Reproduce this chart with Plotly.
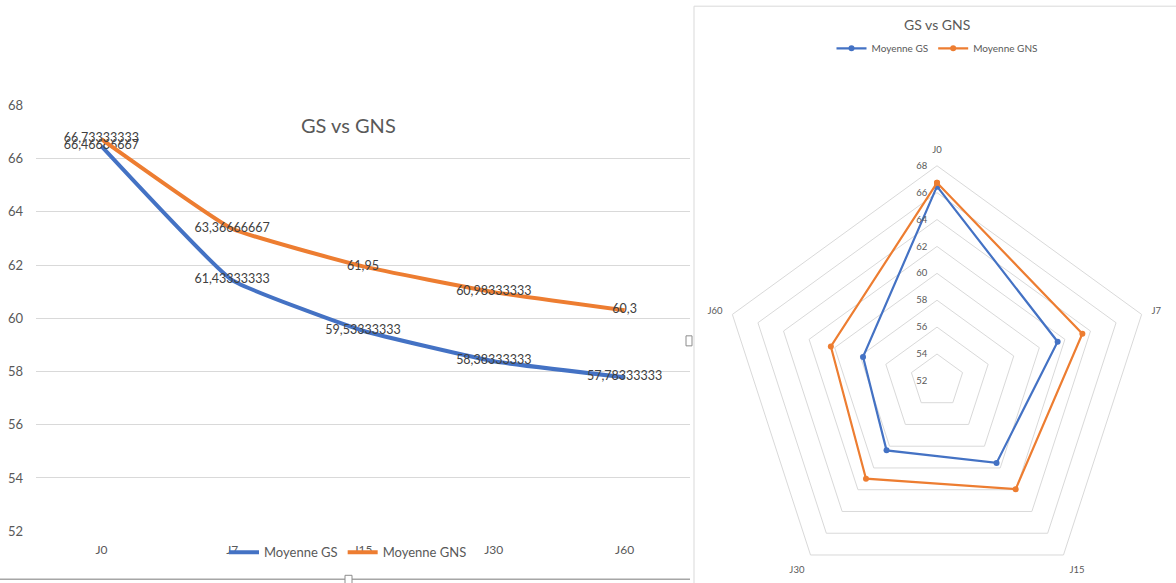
import plotly.graph_objects as go

# Days of follow-up and mean values per group
jours = ["J0", "J7", "J15", "J30", "J60"]
moyenne_gs = [66.46666667, 61.43333333, 59.53333333, 58.38333333, 57.78333333]
moyenne_gns = [66.73333333, 63.36666667, 61.95, 60.98333333, 60.3]
y_ticks = [52, 54, 56, 58, 60, 62, 64, 66, 68]

BLUE = "#4472C4"
ORANGE = "#ED7D31"
GRID = "#D9D9D9"
TXT = "#595959"
FONT = "Lato"

W, H = 1176, 606

# vertical placement: page offset and scale of the rendered view
V_OFF, V_SC = 7.8, 0.9717

# radar placement (centre on screen, radius in layout pixels)
RADAR_CX, RADAR_CY, RADAR_R = 937, 380, 221


def px_x(p):
    return p / W


def design_y(p):
    return (p - V_OFF) / V_SC


def px_y(p):
    return (H - design_y(p)) / H


def fr_label(v):
    # French decimal comma, Excel "General" style (10 significant digits)
    return f"{v:.10g}".replace(".", ",")


fig = go.Figure()

# ---- Line chart (left) ----
for name, vals, col in [("Moyenne GS", moyenne_gs, BLUE), ("Moyenne GNS", moyenne_gns, ORANGE)]:
    fig.add_trace(go.Scatter(
        x=jours, y=vals, name=name, mode="lines+text",
        line=dict(color=col, width=4, shape="spline", smoothing=0.35),
        text=[fr_label(v) for v in vals], textposition="middle center",
        textfont=dict(family=FONT, size=12.5, color="#404040"),
        xaxis="x", yaxis="y", legend="legend",
    ))

# ---- Radar chart (right) ----
for name, vals, col in [("Moyenne GS", moyenne_gs, BLUE), ("Moyenne GNS", moyenne_gns, ORANGE)]:
    fig.add_trace(go.Scatterpolar(
        r=vals + vals[:1], theta=jours + jours[:1], name=name,
        mode="lines+markers",
        line=dict(color=col, width=2.2),
        marker=dict(color=col, size=6),
        subplot="polar", legend="legend2",
    ))

# polar box: square in layout pixels, centred on the radar centre
cy_d = design_y(RADAR_CY)
polar_y = [(H - (cy_d + RADAR_R)) / H, (H - (cy_d - RADAR_R)) / H]

fig.update_layout(
    width=W, height=H, autosize=False,
    margin=dict(l=0, r=0, t=0, b=0),
    paper_bgcolor="white", plot_bgcolor="white",
    font=dict(family=FONT, color=TXT),
    xaxis=dict(
        domain=[px_x(36), px_x(690)], range=[-0.5, 4.5], type="category",
        showgrid=False, showline=False, zeroline=False, ticks="",
        tickfont=dict(family=FONT, size=12, color=TXT), ticklabelstandoff=10,
    ),
    yaxis=dict(
        domain=[px_y(530), px_y(105)], range=[52, 68], tickvals=y_ticks,
        showgrid=True, gridcolor=GRID, gridwidth=1, zeroline=False, showline=False,
        ticks="", tickfont=dict(family=FONT, size=13, color=TXT), ticklabelstandoff=12,
    ),
    legend=dict(
        orientation="h", x=px_x(224), y=px_y(551), xanchor="left", yanchor="middle",
        bgcolor="rgba(0,0,0,0)", font=dict(family=FONT, size=13, color=TXT),
        itemwidth=30, tracegroupgap=0,
    ),
    legend2=dict(
        orientation="h", x=px_x(937), y=px_y(48), xanchor="center", yanchor="middle",
        bgcolor="rgba(0,0,0,0)", font=dict(family=FONT, size=10, color=TXT),
        itemwidth=30,
    ),
    polar=dict(
        domain=dict(
            x=[px_x(RADAR_CX - RADAR_R), px_x(RADAR_CX + RADAR_R)],
            y=polar_y,
        ),
        gridshape="linear", bgcolor="white",
        radialaxis=dict(
            range=[52, 68], tickvals=y_ticks, angle=90, side="counterclockwise",
            showline=False, ticks="outside", ticklen=6, tickcolor="rgba(0,0,0,0)",
            gridcolor=GRID, gridwidth=1,
            tickfont=dict(family=FONT, size=9.5, color=TXT), tickangle=90,
        ),
        angularaxis=dict(
            direction="clockwise", rotation=90, showgrid=False,
            showline=True, linecolor=GRID, linewidth=1,
            ticks="outside", ticklen=8, tickcolor="rgba(0,0,0,0)",
            tickfont=dict(family=FONT, size=9.5, color=TXT),
        ),
    ),
    annotations=[
        dict(text="GS vs GNS", x=px_x(348), y=px_y(125), xref="paper", yref="paper",
             xanchor="center", yanchor="middle", showarrow=False,
             font=dict(family=FONT, size=20, color=TXT)),
        dict(text="GS vs GNS", x=px_x(937), y=px_y(24), xref="paper", yref="paper",
             xanchor="center", yanchor="middle", showarrow=False,
             font=dict(family=FONT, size=14, color=TXT)),
    ],
    shapes=[
        # radar chart area frame
        dict(type="line", xref="paper", yref="paper", x0=px_x(694), x1=px_x(694),
             y0=px_y(6), y1=0, line=dict(color=GRID, width=1)),
        dict(type="line", xref="paper", yref="paper", x0=px_x(694), x1=1,
             y0=px_y(6), y1=px_y(6), line=dict(color=GRID, width=1)),
        # bottom border of line chart with resize handles
        dict(type="line", xref="paper", yref="paper", x0=0, x1=px_x(690),
             y0=px_y(578), y1=px_y(578), line=dict(color="#A6A6A6", width=1.5)),
        dict(type="rect", xref="paper", yref="paper", x0=px_x(345), x1=px_x(352),
             y0=px_y(583), y1=px_y(574), line=dict(color="#8C8C8C", width=1),
             fillcolor="white"),
        dict(type="rect", xref="paper", yref="paper", x0=px_x(686), x1=px_x(692),
             y0=px_y(345), y1=px_y(335), line=dict(color="#8C8C8C", width=1),
             fillcolor="white"),
    ],
)

fig.write_html("out.html", config={"responsive": False})
